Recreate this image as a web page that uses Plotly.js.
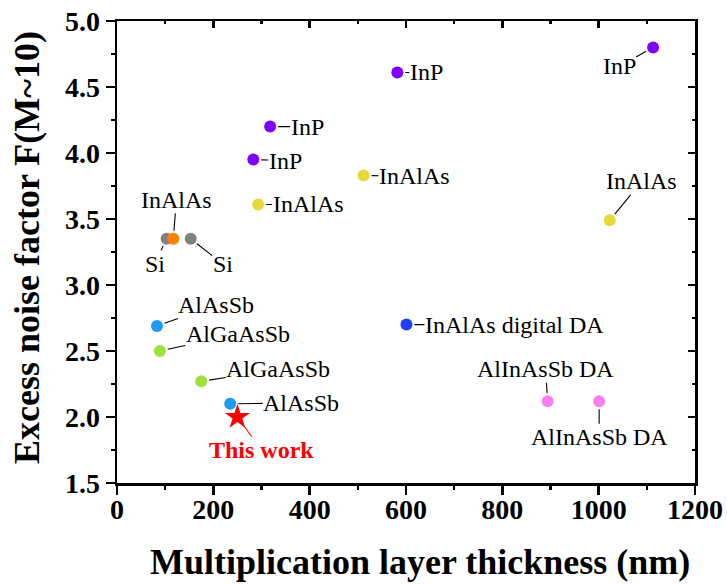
<!DOCTYPE html>
<html>
<head>
<meta charset="utf-8">
<script src="https://cdn.plot.ly/plotly-3.0.1.min.js"></script>
<style>
  html, body { margin: 0; padding: 0; background: #ffffff; }
  #chart { width: 727px; height: 584px; }
</style>
</head>
<body>
<div id="chart"></div>
<script>
// Multiplication layer thickness (nm) and excess noise factor F at M~10
const inpX = [1113, 582, 318, 283];
const inpY = [4.80, 4.61, 4.20, 3.95];
const inpLabels = ['InP', 'InP', 'InP', 'InP'];

const inalasX = [512, 293, 1023];
const inalasY = [3.83, 3.61, 3.49];
const inalasLabels = ['InAlAs', 'InAlAs', 'InAlAs'];

const siX = [103, 153];
const siY = [3.35, 3.35];
const siLabels = ['Si', 'Si'];

const inalasOrX = [117];
const inalasOrY = [3.35];
const inalasOrLabels = ['InAlAs'];

const alassbX = [83, 235];
const alassbY = [2.69, 2.10];
const alassbLabels = ['AlAsSb', 'AlAsSb'];

const algaassbX = [89, 175];
const algaassbY = [2.50, 2.27];
const algaassbLabels = ['AlGaAsSb', 'AlGaAsSb'];

const digitalX = [601];
const digitalY = [2.70];
const digitalLabels = ['InAlAs digital DA'];

const alinassbX = [894, 1001];
const alinassbY = [2.12, 2.12];
const alinassbLabels = ['AlInAsSb DA', 'AlInAsSb DA'];

const workX = [250];
const workY = [2.00];
const workLabels = ['This work'];

const xTicks = [0, 200, 400, 600, 800, 1000, 1200];
const yTicks = [1.5, 2.0, 2.5, 3.0, 3.5, 4.0, 4.5, 5.0];

const xTitle = 'Multiplication layer thickness (nm)';
const yTitle = 'Excess noise factor F(M~10)';

const SERIF = '"Liberation Serif", "Times New Roman", serif';

// Material groups: data, marker colour, label offsets (text centre relative to the dot, px)
const groups = [
  { x: inpX, y: inpY, labels: inpLabels, color: '#8000ff',
    offsets: [[-34, 19], [29, 0], [37, 0], [32, 1]] },
  { x: inalasX, y: inalasY, labels: inalasLabels, color: '#e6d939',
    offsets: [[51, 1], [50, 0], [32, -39]] },
  { x: siX, y: siY, labels: siLabels, color: '#808080',
    offsets: [[-12, 25], [32, 25]] },
  { x: inalasOrX, y: inalasOrY, labels: inalasOrLabels, color: '#ff8000',
    offsets: [[3, -39]] },
  { x: alassbX, y: alassbY, labels: alassbLabels, color: '#1a9cf5',
    offsets: [[59, -21], [71, -1]] },
  { x: algaassbX, y: algaassbY, labels: algaassbLabels, color: '#a0e03c',
    offsets: [[78, -17], [77, -12]] },
  { x: digitalX, y: digitalY, labels: digitalLabels, color: '#2140f5',
    offsets: [[108, 0]] },
  { x: alinassbX, y: alinassbY, labels: alinassbLabels, color: '#fa80f2',
    offsets: [[-2, -32], [0, 36]] }
];

const traces = groups.map(g => ({
  type: 'scatter', mode: 'markers', x: g.x, y: g.y,
  marker: { size: 12, color: g.color, line: { width: 0 } },
  hoverinfo: 'x+y', showlegend: false, xaxis: 'x', yaxis: 'y'
}));

traces.push({
  type: 'scatter', mode: 'markers', x: workX, y: workY,
  marker: { symbol: 'star', size: 19, color: '#ff0000', line: { width: 0 } },
  hoverinfo: 'x+y', showlegend: false, xaxis: 'x', yaxis: 'y'
});

// Invisible trace carrying the mirrored top / right axes
traces.push({ type: 'scatter', mode: 'markers', x: [0], y: [1.5], xaxis: 'x2', yaxis: 'y2',
  marker: { opacity: 0 }, hoverinfo: 'skip', showlegend: false });

const annotations = [];
groups.forEach(g => {
  g.x.forEach((xv, i) => {
    annotations.push({
      x: xv, y: g.y[i], xref: 'x', yref: 'y', text: g.labels[i],
      showarrow: true, arrowhead: 0, arrowwidth: 1.1, arrowcolor: '#000000',
      ax: g.offsets[i][0], ay: g.offsets[i][1], standoff: 8, borderpad: 0,
      font: { family: SERIF, size: 24, color: '#000000' }
    });
  });
});
annotations.push({
  x: workX[0], y: workY[0], xref: 'x', yref: 'y', text: '<b>' + workLabels[0] + '</b>',
  showarrow: true, arrowhead: 0, arrowwidth: 1.1, arrowcolor: '#ff0000',
  ax: 24, ay: 33, standoff: 9, borderpad: 0,
  font: { family: SERIF, size: 24, color: '#ff0000' }
});

// Axis titles
annotations.push({
  xref: 'paper', yref: 'paper', x: 0.5, y: 0, xshift: 14, yshift: -58,
  xanchor: 'center', yanchor: 'top', showarrow: false, borderpad: 0,
  text: '<b>' + xTitle + '</b>', font: { family: SERIF, size: 36, color: '#000000' }
});
annotations.push({
  xref: 'paper', yref: 'paper', x: 0, y: 0.5, xshift: -90, yshift: 4,
  xanchor: 'center', yanchor: 'middle', textangle: -90, showarrow: false,
  text: '<b>' + yTitle + '</b>', font: { family: SERIF, size: 36, color: '#000000' }
});

const axisLine = { showline: true, linecolor: '#000000', linewidth: 2.5, zeroline: false, showgrid: false };

const layout = {
  width: 727, height: 584,
  margin: { l: 117, r: 32, t: 21, b: 101 },
  paper_bgcolor: '#ffffff', plot_bgcolor: '#ffffff',
  showlegend: false,
  font: { family: SERIF, color: '#000000' },
  xaxis: Object.assign({}, axisLine, {
    range: [0, 1200], tickvals: xTicks, ticktext: xTicks.map(String),
    ticks: 'outside', ticklen: 9, tickwidth: 2.5, tickcolor: '#000000',
    ticklabelstandoff: -9,
    minor: { dtick: 100, ticks: 'outside', ticklen: 4, tickwidth: 2.5, tickcolor: '#000000', showgrid: false },
    tickfont: { family: SERIF, size: 28, weight: 'bold', color: '#000000' }
  }),
  yaxis: Object.assign({}, axisLine, {
    range: [1.5, 5.0], tickvals: yTicks, ticktext: yTicks.map(v => v.toFixed(1)),
    ticks: 'outside', ticklen: 9, tickwidth: 2.5, tickcolor: '#000000',
    minor: { dtick: 0.25, ticks: 'outside', ticklen: 4, tickwidth: 2.5, tickcolor: '#000000', showgrid: false },
    tickfont: { family: SERIF, size: 28, weight: 'bold', color: '#000000' }
  }),
  xaxis2: Object.assign({}, axisLine, {
    overlaying: 'x', side: 'top', matches: 'x', range: [0, 1200],
    tickvals: xTicks, showticklabels: false,
    ticks: 'inside', ticklen: 7, tickwidth: 2.5, tickcolor: '#000000',
    minor: { dtick: 100, ticks: 'inside', ticklen: 3, tickwidth: 2.5, tickcolor: '#000000', showgrid: false }
  }),
  yaxis2: Object.assign({}, axisLine, {
    overlaying: 'y', side: 'right', matches: 'y', range: [1.5, 5.0],
    tickvals: yTicks, showticklabels: false,
    ticks: 'inside', ticklen: 7, tickwidth: 2.5, tickcolor: '#000000',
    minor: { dtick: 0.25, ticks: 'inside', ticklen: 3, tickwidth: 2.5, tickcolor: '#000000', showgrid: false }
  }),
  annotations: annotations
};

Plotly.newPlot('chart', traces, layout, { staticPlot: true, displayModeBar: false });
</script>
</body>
</html>
